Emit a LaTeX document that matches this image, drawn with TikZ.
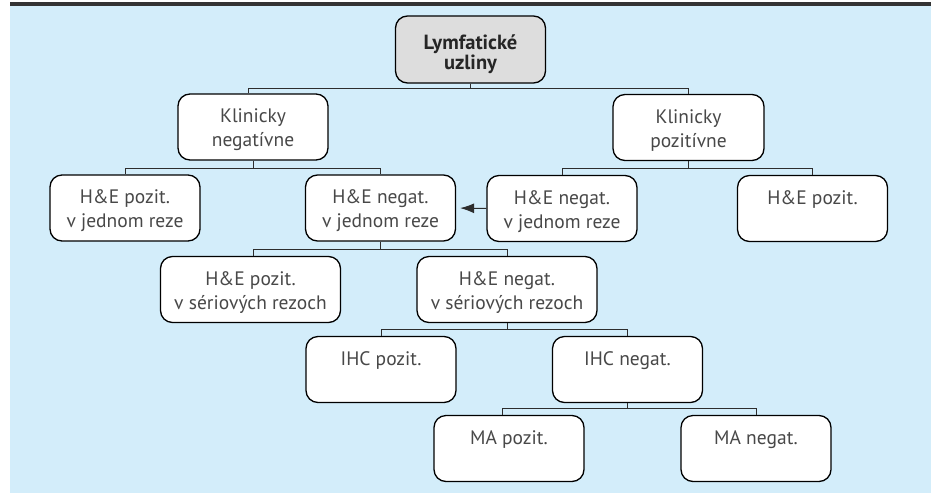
\documentclass[tikz,border=0pt]{standalone}
\usepackage{fontspec}
\setmainfont{PT Sans}
\usetikzlibrary{arrows.meta}
\definecolor{bgblue}{RGB}{211,237,250}
\definecolor{rootgray}{RGB}{221,221,221}
\definecolor{txtgray}{RGB}{72,72,72}
\definecolor{linegray}{RGB}{45,45,45}
\newcommand\lnA{\rule{0pt}{20pt}}
\newcommand\lnB{\rule[-4pt]{0pt}{4pt}}
\begin{document}
\begin{tikzpicture}[x=1pt,y=-1pt,
  box/.style={draw=black, line width=1.3pt, rounded corners=12pt, fill=white,
    minimum width=150pt, minimum height=66pt, align=center, inner sep=0pt,
    text=txtgray, font=\fontsize{19.5}{24}\selectfont},
  widebox/.style={box, minimum width=180pt},
  rootbox/.style={box, fill=rootgray, text=black!85, font=\fontsize{20.5}{20}\selectfont\bfseries},
  conn/.style={draw=linegray, line width=1pt},
  arr/.style={-{Latex[length=14pt,width=10pt]}, line width=1pt, draw=linegray, shorten >=4pt}]
\useasboundingbox (0,0) rectangle (931,493);
\fill[white] (0,0) rectangle (931,493);
\fill[bgblue] (10,5.5) rectangle (931,493);
\fill[black!80] (10,2) rectangle (931,5.5);

\node[rootbox, minimum height=67pt] (root) at (470.5,49.5) {\rule{0pt}{24pt}Lymfatické\\uzliny\rule[-3pt]{0pt}{3pt}};

\node[box] (kn) at (253,127) {\lnA Klinicky\\negatívne\lnB};
\node[box, minimum width=151pt] (kp) at (688.5,127.5) {\lnA Klinicky\\pozitívne\lnB};

\node[box] (hpj) at (125,208) {\lnA H\&E pozit.\\v jednom reze\lnB};
\node[box] (hnj) at (380.5,208) {\lnA H\&E negat.\\v jednom reze\lnB};
\node[box] (hnjb) at (562,208.5) {\lnA H\&E negat.\\v jednom reze\lnB};
\node[box] (hp) at (812.5,208.5) {\lnA H\&E pozit.\\\lnB};

\node[widebox] (hps) at (250.5,289.5) {\lnA H\&E pozit.\\v sériových rezoch\lnB};
\node[widebox] (hns) at (507,289.5) {\lnA H\&E negat.\\v sériových rezoch\lnB};

\node[box] (ihcp) at (381,369.5) {\lnA IHC pozit.\\\lnB};
\node[box] (ihcn) at (627.5,369.5) {\lnA IHC negat.\\\lnB};

\node[box] (map) at (509,448.5) {\lnA MA pozit.\\\lnB};
\node[box] (man) at (756,448.5) {\lnA MA negat.\\\lnB};

\draw[conn] (root.south) -- ++(0,5) -| ([xshift=-5pt]kn.north);
\draw[conn] (root.south) -- ++(0,5) -| (kp.north);
\draw[conn] (kn.south) -- ++(0,8) -| (hpj.north);
\draw[conn] (kn.south) -- ++(0,8) -| (hnj.north);
\draw[conn] (kp.south) -- ++(0,7) -| (hnjb.north);
\draw[conn] (kp.south) -- ++(0,7) -| (hp.north);
\draw[conn] (hnj.south) -- ++(0,8) -| ([xshift=2.5pt]hps.north);
\draw[conn] (hnj.south) -- ++(0,8) -| (hns.north);
\draw[conn] (hns.south) -- ++(0,6) -| (ihcp.north);
\draw[conn] (hns.south) -- ++(0,6) -| (ihcn.north);
\draw[conn] (ihcn.south) -- ++(0,5) -| ([xshift=-7pt]map.north);
\draw[conn] (ihcn.south) -- ++(0,5) -| (man.north);
\draw[arr] (hnjb.west) -- (hnj.east);
\end{tikzpicture}
\end{document}
